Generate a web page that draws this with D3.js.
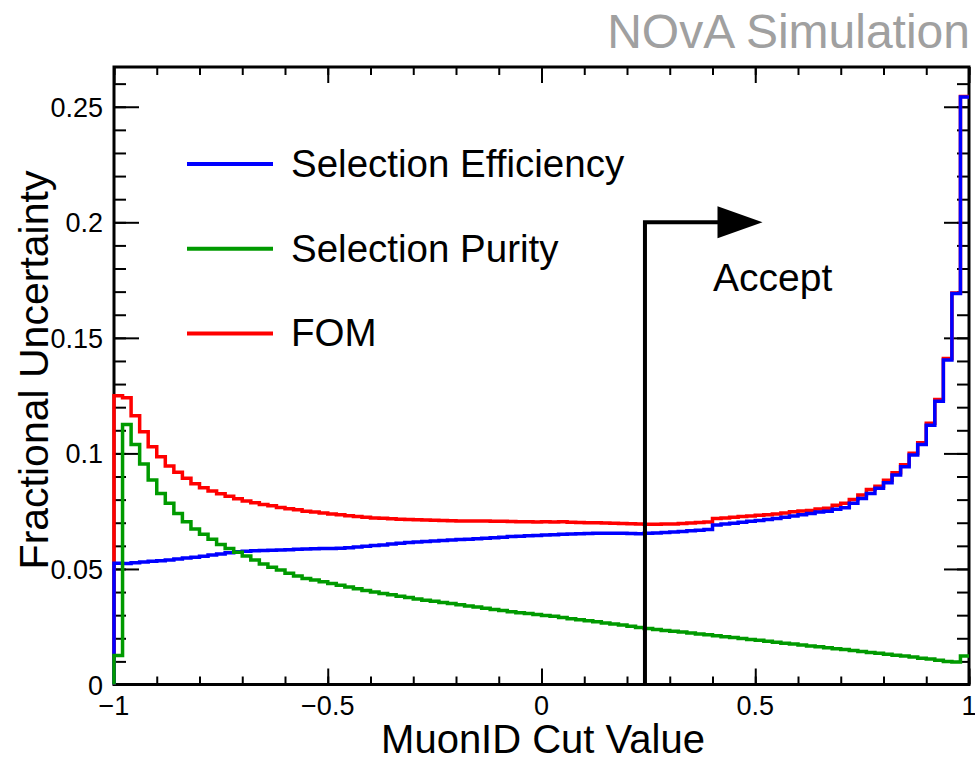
<!DOCTYPE html>
<html>
<head>
<meta charset="utf-8">
<script src="https://d3js.org/d3.v7.min.js"></script>
<style>
  body { margin: 0; background: #fff; }
  text { font-family: "Liberation Sans", Arial, Helvetica, sans-serif; }
</style>
</head>
<body>
<div id="myDiv"></div>
<script>
// binning of the histograms
var xMin = -1, xMax = 1, nBins = 100;
var yMax = 0.2672;

// per bin values
var effValues = [
  0.0525, 0.0524, 0.0527, 0.0530, 0.0533, 0.0536, 0.0539, 0.0543, 0.0547, 0.0551,
  0.0555, 0.0560, 0.0565, 0.0570, 0.0574, 0.0577, 0.0579, 0.0580, 0.0581, 0.0582,
  0.0583, 0.0585, 0.0586, 0.0587, 0.0588, 0.0589, 0.0590, 0.0592, 0.0595, 0.0598,
  0.0601, 0.0604, 0.0608, 0.0611, 0.0614, 0.0617, 0.0619, 0.0621, 0.0623, 0.0625,
  0.0627, 0.0629, 0.0631, 0.0633, 0.0635, 0.0637, 0.0640, 0.0642, 0.0644, 0.0645,
  0.0647, 0.0648, 0.0650, 0.0651, 0.0652, 0.0653, 0.0654, 0.0655, 0.0655, 0.0654,
  0.0653, 0.0652, 0.0654, 0.0656, 0.0658, 0.0660, 0.0662, 0.0665, 0.0668, 0.0671,
  0.0690, 0.0694, 0.0698, 0.0702, 0.0706, 0.0710, 0.0714, 0.0718, 0.0724, 0.0729,
  0.0735, 0.0740, 0.0746, 0.0750, 0.0758, 0.0765, 0.0784, 0.0805, 0.0827, 0.0849,
  0.0873, 0.0906, 0.0942, 0.0993, 0.1039, 0.1122, 0.1226, 0.1404, 0.1692, 0.2542
];

var purValues = [
  0.0125, 0.1125, 0.1039, 0.0954, 0.0885, 0.0827, 0.0784, 0.0740, 0.0704, 0.0673,
  0.0650, 0.0629, 0.0606, 0.0589, 0.0572, 0.0556, 0.0539, 0.0521, 0.0507, 0.0495,
  0.0481, 0.0469, 0.0459, 0.0452, 0.0445, 0.0437, 0.0430, 0.0422, 0.0414, 0.0407,
  0.0400, 0.0394, 0.0388, 0.0382, 0.0376, 0.0370, 0.0365, 0.0360, 0.0355, 0.0350,
  0.0345, 0.0340, 0.0335, 0.0330, 0.0325, 0.0320, 0.0315, 0.0311, 0.0307, 0.0303,
  0.0299, 0.0295, 0.0290, 0.0285, 0.0280, 0.0276, 0.0271, 0.0266, 0.0262, 0.0257,
  0.0252, 0.0247, 0.0242, 0.0238, 0.0234, 0.0230, 0.0227, 0.0223, 0.0219, 0.0215,
  0.0211, 0.0207, 0.0203, 0.0199, 0.0195, 0.0191, 0.0187, 0.0183, 0.0179, 0.0175,
  0.0171, 0.0167, 0.0163, 0.0159, 0.0155, 0.0151, 0.0147, 0.0143, 0.0139, 0.0135,
  0.0131, 0.0127, 0.0123, 0.0119, 0.0114, 0.0110, 0.0105, 0.0100, 0.0097, 0.0123
];

var fomValues = [
  0.1250, 0.1241, 0.1163, 0.1094, 0.1029, 0.0985, 0.0946, 0.0918, 0.0892, 0.0869,
  0.0851, 0.0837, 0.0825, 0.0815, 0.0804, 0.0794, 0.0786, 0.0779, 0.0773, 0.0766,
  0.0760, 0.0756, 0.0750, 0.0746, 0.0742, 0.0738, 0.0734, 0.0730, 0.0727, 0.0724,
  0.0721, 0.0719, 0.0717, 0.0715, 0.0714, 0.0713, 0.0712, 0.0711, 0.0710, 0.0709,
  0.0708, 0.0708, 0.0707, 0.0707, 0.0706, 0.0706, 0.0705, 0.0704, 0.0704, 0.0703,
  0.0704, 0.0703, 0.0704, 0.0702, 0.0701, 0.0700, 0.0700, 0.0699, 0.0698, 0.0697,
  0.0696, 0.0694, 0.0693, 0.0693, 0.0694, 0.0695, 0.0697, 0.0699, 0.0701, 0.0703,
  0.0718, 0.0721, 0.0724, 0.0727, 0.0729, 0.0732, 0.0735, 0.0738, 0.0742, 0.0747,
  0.0751, 0.0753, 0.0759, 0.0763, 0.0776, 0.0784, 0.0801, 0.0820, 0.0844, 0.0858,
  0.0884, 0.0916, 0.0951, 0.1001, 0.1046, 0.1130, 0.1233, 0.1411, 0.1694, 0.2544
];

var seriesNames = ["Selection Efficiency", "Selection Purity", "FOM"];
var seriesColors = ["#0000ff", "#009a00", "#ff0000"];

var xTickMajor = [-1, -0.5, 0, 0.5, 1];
var xTickLabels = ["\u22121", "\u22120.5", "0", "0.5", "1"];
var yTickMajor = [0, 0.05, 0.1, 0.15, 0.2, 0.25];
var yTickLabels = ["0", "0.05", "0.1", "0.15", "0.2", "0.25"];

var cutValue = 0.242;   // accept arrow position
var arrowY = 0.2;
var arrowEnd = 0.517;

//Width and height
var w = 975;
var h = 757;
var padL = 114, padR = 969, padT = 67, padB = 684.5;

var svg = d3.select("#myDiv")
    .append("svg")
    .attr("width", w)
    .attr("height", h);

var x = d3.scaleLinear().domain([xMin, xMax]).range([padL, padR]);
var y = d3.scaleLinear().domain([0, yMax]).range([padB, padT]);

//Frame
svg.append("rect")
   .attr("x", padL)
   .attr("y", padT)
   .attr("width", padR - padL)
   .attr("height", padB - padT)
   .attr("fill", "none")
   .attr("stroke", "#000")
   .attr("stroke-width", 3);

//Axes - ticks on all four sides like ROOT
function styleAxis(g) {
  g.select(".domain").remove();
  g.selectAll("line").attr("stroke", "#000").attr("stroke-width", 2);
}

var xMinor = d3.range(-10, 11).map(function(d) { return d / 10; });
var yMinor = d3.range(0, 27).map(function(d) { return d / 100; });

svg.append("g")
   .attr("transform", "translate(0," + padB + ")")
   .call(d3.axisTop(x).tickValues(xMinor).tickSize(8).tickFormat(""))
   .call(styleAxis);
svg.append("g")
   .attr("transform", "translate(0," + padB + ")")
   .call(d3.axisTop(x).tickValues(xTickMajor).tickSize(16).tickFormat(""))
   .call(styleAxis);
svg.append("g")
   .attr("transform", "translate(0," + padT + ")")
   .call(d3.axisBottom(x).tickValues(xMinor).tickSize(8).tickFormat(""))
   .call(styleAxis);
svg.append("g")
   .attr("transform", "translate(0," + padT + ")")
   .call(d3.axisBottom(x).tickValues(xTickMajor).tickSize(16).tickFormat(""))
   .call(styleAxis);

svg.append("g")
   .attr("transform", "translate(" + padL + ",0)")
   .call(d3.axisRight(y).tickValues(yMinor).tickSize(12).tickFormat(""))
   .call(styleAxis);
svg.append("g")
   .attr("transform", "translate(" + padL + ",0)")
   .call(d3.axisRight(y).tickValues(yTickMajor).tickSize(25).tickFormat(""))
   .call(styleAxis);
svg.append("g")
   .attr("transform", "translate(" + padR + ",0)")
   .call(d3.axisLeft(y).tickValues(yMinor).tickSize(12).tickFormat(""))
   .call(styleAxis);
svg.append("g")
   .attr("transform", "translate(" + padR + ",0)")
   .call(d3.axisLeft(y).tickValues(yTickMajor).tickSize(25).tickFormat(""))
   .call(styleAxis);

//Tick labels
svg.selectAll(".xlab")
   .data(xTickMajor)
   .enter()
   .append("text")
   .attr("class", "xlab")
   .attr("x", function(d) { return x(d); })
   .attr("y", padB + 30)
   .attr("text-anchor", "middle")
   .attr("font-size", 27)
   .text(function(d, i) { return xTickLabels[i]; });

svg.selectAll(".ylab")
   .data(yTickMajor)
   .enter()
   .append("text")
   .attr("class", "ylab")
   .attr("x", padL - 11)
   .attr("y", function(d) { return y(d) + 10; })
   .attr("text-anchor", "end")
   .attr("font-size", 27)
   .text(function(d, i) { return yTickLabels[i]; });

//Axis titles
svg.append("text")
   .attr("x", 543)
   .attr("y", 753)
   .attr("text-anchor", "middle")
   .attr("font-size", 40)
   .text("MuonID Cut Value");

svg.append("text")
   .attr("transform", "translate(48,370) rotate(-90)")
   .attr("text-anchor", "middle")
   .attr("font-size", 41)
   .text("Fractional Uncertainty");

svg.append("text")
   .attr("x", 970)
   .attr("y", 48)
   .attr("text-anchor", "end")
   .attr("font-size", 48)
   .attr("fill", "#a0a0a0")
   .text("NOvA Simulation");

//Histograms drawn as steps
function histPoints(vals) {
  var binW = (xMax - xMin) / nBins;
  var pts = [[xMin, 0]];
  for (var i = 0; i < vals.length; i++) {
    pts.push([xMin + i * binW, vals[i]]);
  }
  pts.push([xMax, vals[vals.length - 1]]);
  return pts;
}

var line = d3.line()
    .x(function(d) { return x(d[0]); })
    .y(function(d) { return y(d[1]); })
    .curve(d3.curveStepAfter);

var allSeries = [fomValues, effValues, purValues];
var allColors = [seriesColors[2], seriesColors[0], seriesColors[1]];
for (var s = 0; s < allSeries.length; s++) {
  svg.append("path")
     .datum(histPoints(allSeries[s]))
     .attr("d", line)
     .attr("fill", "none")
     .attr("stroke", allColors[s])
     .attr("stroke-width", 3.5);
}

//Accept arrow
svg.append("path")
   .attr("d", "M" + x(cutValue) + "," + y(0) + "V" + y(arrowY) + "H" + (x(arrowEnd) - 44))
   .attr("fill", "none")
   .attr("stroke", "#000")
   .attr("stroke-width", 4);
svg.append("path")
   .attr("d", "M" + (x(arrowEnd) - 45) + "," + (y(arrowY) - 16) +
              "L" + x(arrowEnd) + "," + y(arrowY) +
              "L" + (x(arrowEnd) - 45) + "," + (y(arrowY) + 16) + "Z")
   .attr("fill", "#000");
svg.append("text")
   .attr("x", 713)
   .attr("y", 291)
   .attr("font-size", 39)
   .text("Accept");

//Legend
var legend = svg.selectAll(".leg")
   .data(seriesNames)
   .enter()
   .append("g")
   .attr("class", "leg")
   .attr("transform", function(d, i) { return "translate(187," + (164 + i * 84.7) + ")"; });

legend.append("line")
   .attr("x1", 0)
   .attr("x2", 86)
   .attr("stroke", function(d, i) { return seriesColors[i]; })
   .attr("stroke-width", 4);

legend.append("text")
   .attr("x", 104)
   .attr("y", 13)
   .attr("font-size", 38.5)
   .text(function(d) { return d; });
</script>
</body>
</html>
